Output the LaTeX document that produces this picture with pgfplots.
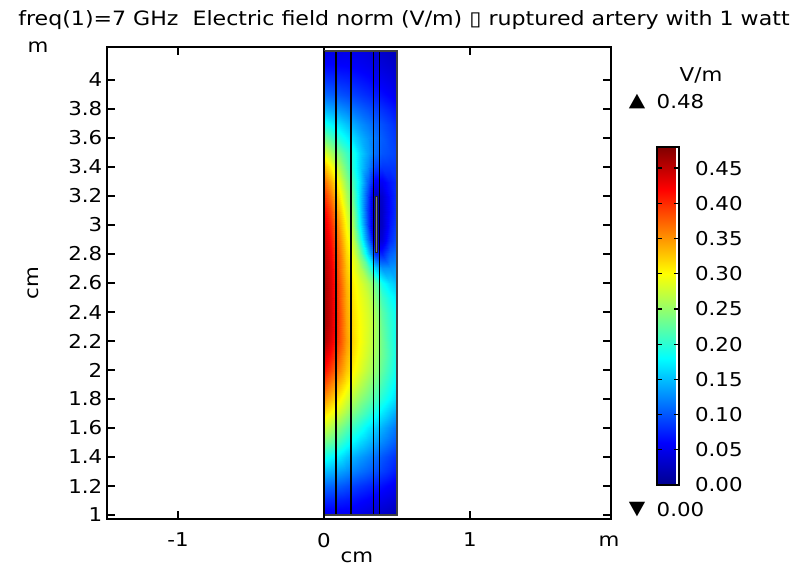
\documentclass[border=0pt]{standalone}
\usepackage{pgfplots}
\pgfplotsset{compat=1.18}
\usepackage{fontspec}
\setmainfont{DejaVu Sans}[FakeStretch=1.12]
\pgfplotsset{colormap={cjet}{rgb255(0cm)=(0,0,143) rgb255(1cm)=(0,0,255) rgb255(3cm)=(0,255,255) rgb255(5cm)=(255,255,0) rgb255(7cm)=(255,0,0) rgb255(8cm)=(128,0,0)}}
\newcommand{\tfont}{\fontsize{14.3}{16}\selectfont}
\begin{document}
\begin{tikzpicture}
\useasboundingbox (0,0) rectangle (600.75pt,425.25pt);
\begin{axis}[
  at={(80.25pt,36pt)}, anchor=south west,
  scale only axis, width=378pt, height=354pt,
  xmin=-1.486, xmax=1.966, ymin=0.972, ymax=4.228,
  xtick={-1,0,1}, xticklabels={-1,0,1},
  ytick={1,1.2,1.4,1.6,1.8,2,2.2,2.4,2.6,2.8,3,3.2,3.4,3.6,3.8,4},
  yticklabels={1,1.2,1.4,1.6,1.8,2,2.2,2.4,2.6,2.8,3,3.2,3.4,3.6,3.8,4},
  tick align=inside, major tick length=6pt,
  tick style={line width=1pt, black},
  axis line style={line width=1.2pt},
  ticklabel style={font=\tfont},
  xticklabel style={yshift=-7pt},
  colormap name=cjet,
  point meta min=0, point meta max=0.48,
  colorbar,
  colorbar style={
    at={(1.0913,0.072)}, anchor=south west,
    scale only axis, width=16.5pt, height=253.5pt,
    ytick={0,0.05,0.10,0.15,0.20,0.25,0.30,0.35,0.40,0.45},
    yticklabels={0.00,0.05,0.10,0.15,0.20,0.25,0.30,0.35,0.40,0.45},
    tick align=inside, major tick length=3.5pt,
    tick style={line width=1pt, black},
    ytick pos=both, yticklabel pos=right,
    yticklabel style={font=\tfont, xshift=8.5pt},
    axis line style={line width=1.2pt},
  },
]
\addplot[surf, shader=interp, mesh/cols=11, point meta=explicit]
 table[row sep=\\, x=x, y=y, meta=c]{
x y c \\
0 1.0 .05 \\ .05 1.0 .05 \\ .1 1.0 .05 \\ .15 1.0 .05 \\ .2 1.0 .05 \\ .25 1.0 .045 \\ .3 1.0 .04 \\ .35 1.0 .035 \\ .4 1.0 .03 \\ .45 1.0 .025 \\ .5 1.0 .02 \\
0 1.1 .08 \\ .05 1.1 .078 \\ .1 1.1 .075 \\ .15 1.1 .072 \\ .2 1.1 .068 \\ .25 1.1 .063 \\ .3 1.1 .058 \\ .35 1.1 .053 \\ .4 1.1 .048 \\ .45 1.1 .042 \\ .5 1.1 .037 \\
0 1.2 .11 \\ .05 1.2 .107 \\ .1 1.2 .103 \\ .15 1.2 .097 \\ .2 1.2 .09 \\ .25 1.2 .084 \\ .3 1.2 .078 \\ .35 1.2 .072 \\ .4 1.2 .065 \\ .45 1.2 .058 \\ .5 1.2 .05 \\
0 1.3 .15 \\ .05 1.3 .145 \\ .1 1.3 .138 \\ .15 1.3 .13 \\ .2 1.3 .122 \\ .25 1.3 .114 \\ .3 1.3 .106 \\ .35 1.3 .098 \\ .4 1.3 .089 \\ .45 1.3 .08 \\ .5 1.3 .07 \\
0 1.4 .19 \\ .05 1.4 .18 \\ .1 1.4 .17 \\ .15 1.4 .155 \\ .2 1.4 .143 \\ .25 1.4 .133 \\ .3 1.4 .123 \\ .35 1.4 .112 \\ .4 1.4 .1 \\ .45 1.4 .09 \\ .5 1.4 .08 \\
0 1.5 .235 \\ .05 1.5 .225 \\ .1 1.5 .21 \\ .15 1.5 .192 \\ .2 1.5 .177 \\ .25 1.5 .163 \\ .3 1.5 .15 \\ .35 1.5 .137 \\ .4 1.5 .124 \\ .45 1.5 .112 \\ .5 1.5 .1 \\
0 1.6 .275 \\ .05 1.6 .26 \\ .1 1.6 .24 \\ .15 1.6 .222 \\ .2 1.6 .205 \\ .25 1.6 .19 \\ .3 1.6 .172 \\ .35 1.6 .157 \\ .4 1.6 .142 \\ .45 1.6 .127 \\ .5 1.6 .112 \\
0 1.7 .315 \\ .05 1.7 .298 \\ .1 1.7 .278 \\ .15 1.7 .258 \\ .2 1.7 .238 \\ .25 1.7 .222 \\ .3 1.7 .205 \\ .35 1.7 .188 \\ .4 1.7 .17 \\ .45 1.7 .153 \\ .5 1.7 .137 \\
0 1.8 .35 \\ .05 1.8 .33 \\ .1 1.8 .305 \\ .15 1.8 .283 \\ .2 1.8 .263 \\ .25 1.8 .246 \\ .3 1.8 .23 \\ .35 1.8 .213 \\ .4 1.8 .195 \\ .45 1.8 .177 \\ .5 1.8 .16 \\
0 1.9 .385 \\ .05 1.9 .36 \\ .1 1.9 .333 \\ .15 1.9 .308 \\ .2 1.9 .287 \\ .25 1.9 .268 \\ .3 1.9 .25 \\ .35 1.9 .232 \\ .4 1.9 .212 \\ .45 1.9 .192 \\ .5 1.9 .172 \\
0 2.0 .415 \\ .05 2.0 .39 \\ .1 2.0 .358 \\ .15 2.0 .328 \\ .2 2.0 .303 \\ .25 2.0 .285 \\ .3 2.0 .266 \\ .35 2.0 .247 \\ .4 2.0 .225 \\ .45 2.0 .203 \\ .5 2.0 .18 \\
0 2.1 .44 \\ .05 2.1 .413 \\ .1 2.1 .375 \\ .15 2.1 .34 \\ .2 2.1 .313 \\ .25 2.1 .293 \\ .3 2.1 .275 \\ .35 2.1 .255 \\ .4 2.1 .232 \\ .45 2.1 .208 \\ .5 2.1 .185 \\
0 2.2 .46 \\ .05 2.2 .432 \\ .1 2.2 .388 \\ .15 2.2 .348 \\ .2 2.2 .318 \\ .25 2.2 .298 \\ .3 2.2 .28 \\ .35 2.2 .258 \\ .4 2.2 .232 \\ .45 2.2 .205 \\ .5 2.2 .182 \\
0 2.3 .465 \\ .05 2.3 .44 \\ .1 2.3 .39 \\ .15 2.3 .345 \\ .2 2.3 .315 \\ .25 2.3 .298 \\ .3 2.3 .282 \\ .35 2.3 .26 \\ .4 2.3 .228 \\ .45 2.3 .203 \\ .5 2.3 .183 \\
0 2.4 .465 \\ .05 2.4 .44 \\ .1 2.4 .388 \\ .15 2.4 .342 \\ .2 2.4 .313 \\ .25 2.4 .296 \\ .3 2.4 .28 \\ .35 2.4 .255 \\ .4 2.4 .222 \\ .45 2.4 .198 \\ .5 2.4 .18 \\
0 2.5 .465 \\ .05 2.5 .438 \\ .1 2.5 .385 \\ .15 2.5 .34 \\ .2 2.5 .31 \\ .25 2.5 .292 \\ .3 2.5 .275 \\ .35 2.5 .245 \\ .4 2.5 .208 \\ .45 2.5 .185 \\ .5 2.5 .17 \\
0 2.6 .463 \\ .05 2.6 .435 \\ .1 2.6 .382 \\ .15 2.6 .335 \\ .2 2.6 .305 \\ .25 2.6 .285 \\ .3 2.6 .262 \\ .35 2.6 .228 \\ .4 2.6 .185 \\ .45 2.6 .163 \\ .5 2.6 .15 \\
0 2.7 .458 \\ .05 2.7 .43 \\ .1 2.7 .375 \\ .15 2.7 .328 \\ .2 2.7 .295 \\ .25 2.7 .265 \\ .3 2.7 .22 \\ .35 2.7 .16 \\ .4 2.7 .13 \\ .45 2.7 .13 \\ .5 2.7 .135 \\
0 2.8 .452 \\ .05 2.8 .422 \\ .1 2.8 .37 \\ .15 2.8 .32 \\ .2 2.8 .285 \\ .25 2.8 .235 \\ .3 2.8 .16 \\ .35 2.8 .085 \\ .4 2.8 .075 \\ .45 2.8 .105 \\ .5 2.8 .118 \\
0 2.9 .445 \\ .05 2.9 .412 \\ .1 2.9 .36 \\ .15 2.9 .31 \\ .2 2.9 .27 \\ .25 2.9 .2 \\ .3 2.9 .115 \\ .35 2.9 .035 \\ .4 2.9 .04 \\ .45 2.9 .08 \\ .5 2.9 .1 \\
0 3.0 .435 \\ .05 3.0 .4 \\ .1 3.0 .348 \\ .15 3.0 .298 \\ .2 3.0 .255 \\ .25 3.0 .175 \\ .3 3.0 .09 \\ .35 3.0 .02 \\ .4 3.0 .03 \\ .45 3.0 .07 \\ .5 3.0 .09 \\
0 3.1 .42 \\ .05 3.1 .385 \\ .1 3.1 .332 \\ .15 3.1 .283 \\ .2 3.1 .24 \\ .25 3.1 .165 \\ .3 3.1 .085 \\ .35 3.1 .02 \\ .4 3.1 .03 \\ .45 3.1 .065 \\ .5 3.1 .085 \\
0 3.2 .398 \\ .05 3.2 .362 \\ .1 3.2 .313 \\ .15 3.2 .265 \\ .2 3.2 .225 \\ .25 3.2 .16 \\ .3 3.2 .09 \\ .35 3.2 .025 \\ .4 3.2 .035 \\ .45 3.2 .065 \\ .5 3.2 .083 \\
0 3.3 .37 \\ .05 3.3 .337 \\ .1 3.3 .292 \\ .15 3.3 .248 \\ .2 3.3 .21 \\ .25 3.3 .165 \\ .3 3.3 .105 \\ .35 3.3 .055 \\ .4 3.3 .055 \\ .45 3.3 .07 \\ .5 3.3 .08 \\
0 3.4 .333 \\ .05 3.4 .302 \\ .1 3.4 .265 \\ .15 3.4 .228 \\ .2 3.4 .195 \\ .25 3.4 .158 \\ .3 3.4 .125 \\ .35 3.4 .09 \\ .4 3.4 .085 \\ .45 3.4 .085 \\ .5 3.4 .085 \\
0 3.5 .285 \\ .05 3.5 .26 \\ .1 3.5 .235 \\ .15 3.5 .21 \\ .2 3.5 .19 \\ .25 3.5 .16 \\ .3 3.5 .135 \\ .35 3.5 .112 \\ .4 3.5 .1 \\ .45 3.5 .095 \\ .5 3.5 .09 \\
0 3.6 .235 \\ .05 3.6 .215 \\ .1 3.6 .195 \\ .15 3.6 .178 \\ .2 3.6 .163 \\ .25 3.6 .145 \\ .3 3.6 .13 \\ .35 3.6 .115 \\ .4 3.6 .103 \\ .45 3.6 .093 \\ .5 3.6 .085 \\
0 3.7 .19 \\ .05 3.7 .177 \\ .1 3.7 .165 \\ .15 3.7 .152 \\ .2 3.7 .14 \\ .25 3.7 .128 \\ .3 3.7 .117 \\ .35 3.7 .106 \\ .4 3.7 .097 \\ .45 3.7 .088 \\ .5 3.7 .078 \\
0 3.8 .145 \\ .05 3.8 .138 \\ .1 3.8 .13 \\ .15 3.8 .122 \\ .2 3.8 .114 \\ .25 3.8 .106 \\ .3 3.8 .098 \\ .35 3.8 .09 \\ .4 3.8 .082 \\ .45 3.8 .074 \\ .5 3.8 .066 \\
0 3.9 .11 \\ .05 3.9 .106 \\ .1 3.9 .1 \\ .15 3.9 .095 \\ .2 3.9 .09 \\ .25 3.9 .085 \\ .3 3.9 .079 \\ .35 3.9 .072 \\ .4 3.9 .065 \\ .45 3.9 .058 \\ .5 3.9 .05 \\
0 4.0 .085 \\ .05 4.0 .082 \\ .1 4.0 .079 \\ .15 4.0 .076 \\ .2 4.0 .073 \\ .25 4.0 .069 \\ .3 4.0 .064 \\ .35 4.0 .058 \\ .4 4.0 .052 \\ .45 4.0 .046 \\ .5 4.0 .04 \\
0 4.1 .063 \\ .05 4.1 .062 \\ .1 4.1 .061 \\ .15 4.1 .06 \\ .2 4.1 .058 \\ .25 4.1 .055 \\ .3 4.1 .051 \\ .35 4.1 .046 \\ .4 4.1 .041 \\ .45 4.1 .036 \\ .5 4.1 .031 \\
0 4.2 .045 \\ .05 4.2 .046 \\ .1 4.2 .047 \\ .15 4.2 .048 \\ .2 4.2 .048 \\ .25 4.2 .046 \\ .3 4.2 .042 \\ .35 4.2 .037 \\ .4 4.2 .032 \\ .45 4.2 .027 \\ .5 4.2 .022 \\
};
% layer boundaries
\addplot[black, line width=0.9pt] coordinates {(0.082,1) (0.082,4.2)};
\addplot[black, line width=0.9pt] coordinates {(0.185,1) (0.185,4.2)};
\addplot[black, line width=0.9pt] coordinates {(0.34,1) (0.34,4.2)};
\addplot[black, line width=0.9pt] coordinates {(0.378,1) (0.378,4.2)};
\addplot[black!75, line width=0.9pt] coordinates {(0,1) (0.5,1) (0.5,4.2) (0,4.2)};
\addplot[black, line width=1.2pt] coordinates {(0,0.972) (0,4.2)};
% rupture
\addplot[fill=gray, draw=black!85, line width=0.6pt] coordinates {(0.351,2.81) (0.369,2.81) (0.369,3.2) (0.351,3.2) (0.351,2.81)};
\end{axis}
\node[font=\fontsize{14.8}{16}\selectfont] at (303pt,410pt) {freq(1)=7 GHz\ \ Electric field norm (V/m) ▯ ruptured artery with 1 watt};
\node[font=\tfont] at (28.5pt,390pt) {m};
\node[font=\tfont] at (456.75pt,19.5pt) {m};
\node[font=\tfont] at (267.75pt,7.5pt) {cm};
\node[font=\tfont, rotate=90] at (24.75pt,213pt) {cm};
\node[font=\tfont] at (525.75pt,369pt) {V/m};
\node[font=\tfont] at (477.75pt,348.75pt) {▲};
\node[font=\tfont, anchor=west] at (489pt,348.75pt) {0.48};
\node[font=\tfont] at (477.75pt,42.75pt) {▼};
\node[font=\tfont, anchor=west] at (489pt,42.75pt) {0.00};
\end{tikzpicture}
\end{document}
